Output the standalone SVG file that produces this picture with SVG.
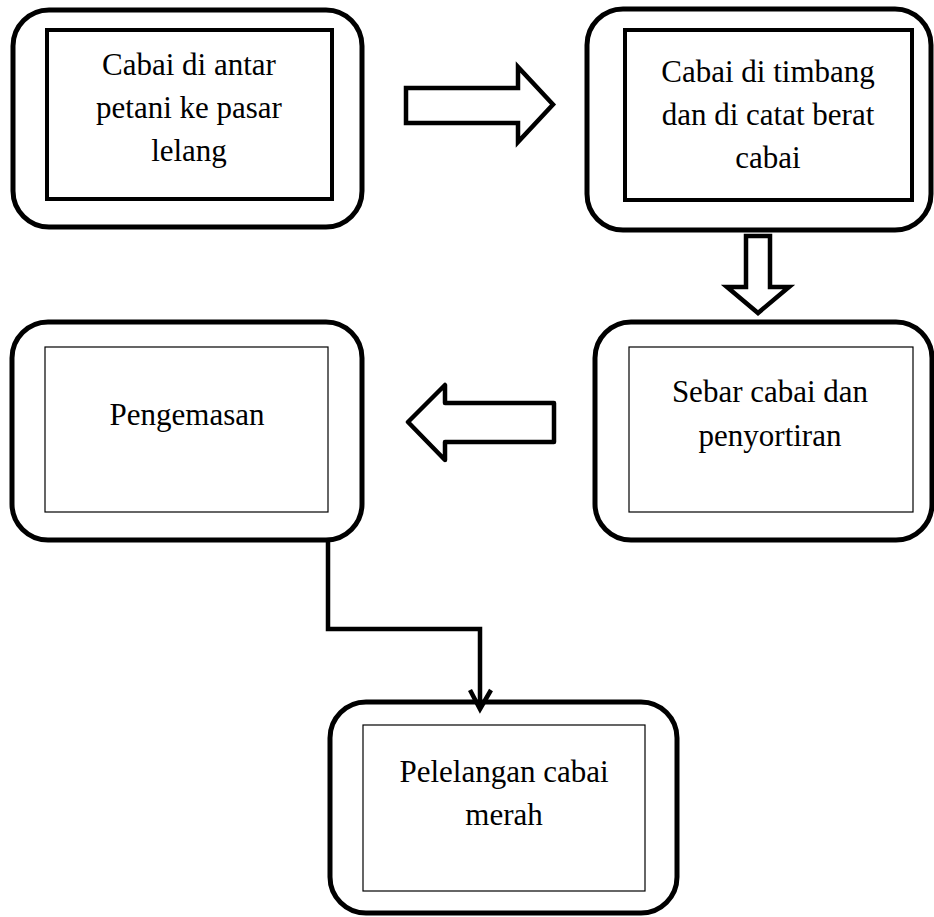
<svg xmlns="http://www.w3.org/2000/svg" width="934" height="917" viewBox="0 0 934 917">
<style>
.outer{fill:#fff;stroke:#000;stroke-width:5}
.innerThick{fill:#fff;stroke:#000;stroke-width:4}
.innerThin{fill:#fff;stroke:#000;stroke-width:1.2}
.lbl{font-family:'Liberation Serif','Times New Roman',serif;font-size:31px;fill:#000;text-anchor:middle}
.blk{fill:#fff;stroke:#000;stroke-width:4.5}
.conn{fill:none;stroke:#000;stroke-width:4.5}
</style>
<rect width="934" height="917" fill="#fff"/>
<g id="n1">
<rect class="outer" x="13" y="10" width="349" height="217" rx="36"/>
<rect class="innerThick" x="47" y="30" width="285" height="169"/>
<text class="lbl" x="189" y="75">Cabai di antar</text>
<text class="lbl" x="189" y="118">petani ke pasar</text>
<text class="lbl" x="189" y="161">lelang</text>
</g>
<g id="n2">
<rect class="outer" x="587" y="9" width="344" height="221" rx="36"/>
<rect class="innerThick" x="625" y="30" width="287" height="170"/>
<text class="lbl" x="768" y="82">Cabai di timbang</text>
<text class="lbl" x="768" y="125">dan di catat berat</text>
<text class="lbl" x="768" y="168">cabai</text>
</g>
<g id="n3">
<rect class="outer" x="12" y="322" width="350" height="218" rx="36"/>
<rect class="innerThin" x="45" y="347" width="283" height="165"/>
<text class="lbl" x="187" y="425">Pengemasan</text>
</g>
<g id="n4">
<rect class="outer" x="595" y="322" width="337" height="218" rx="36"/>
<rect class="innerThin" x="629" y="347" width="284" height="165"/>
<text class="lbl" x="770" y="402">Sebar cabai dan</text>
<text class="lbl" x="770" y="446">penyortiran</text>
</g>
<g id="n5">
<rect class="outer" x="330" y="702" width="347" height="211" rx="36"/>
<rect class="innerThin" x="363" y="725" width="282" height="166"/>
<text class="lbl" x="504" y="782">Pelelangan cabai</text>
<text class="lbl" x="504" y="825">merah</text>
</g>
<g id="connectors">
<polygon class="blk" stroke-linejoin="miter" points="406,88 518,88 518,67 553,104.5 518,142 518,123 406,123"/>
<polygon class="blk" stroke-linejoin="miter" points="746,236 770,236 770,287 789,287 758,313 727,287 746,287"/>
<polygon class="blk" stroke-linejoin="round" points="408,422 445,385 445,403 554,403 554,442 445,442 445,460"/>
<path class="conn" d="M328,541 V629 H480 V708"/>
<path class="conn" stroke-linejoin="miter" d="M470,690 L480,709 L491,690"/>
</g>
</svg>
